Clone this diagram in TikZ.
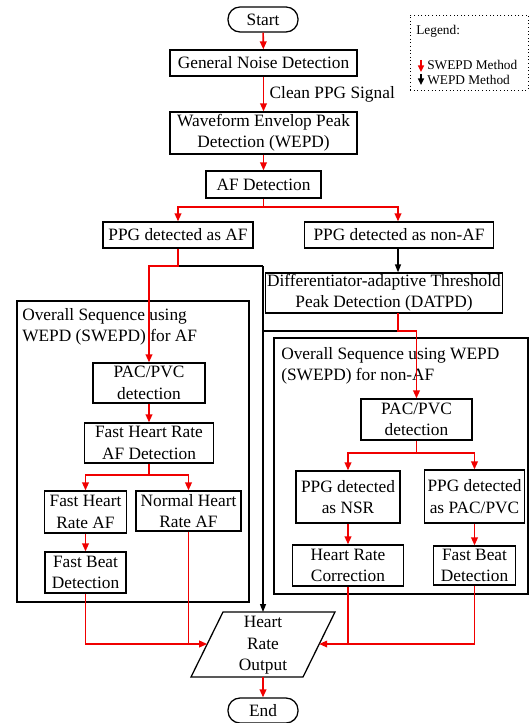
\documentclass[tikz,border=0pt]{standalone}
\usepackage{fontspec}
\setmainfont{Liberation Serif}
\usetikzlibrary{arrows.meta}
\newcommand\fsmain{\fontsize{13}{16}\selectfont}
\newcommand\fsleg{\fontsize{10}{12}\selectfont}
\definecolor{myred}{RGB}{240,0,0}
\tikzset{
  box/.style={draw, line width=0.95pt, align=center, inner sep=1pt, font=\fsmain},
  grp/.style={draw, line width=0.95pt, inner sep=0pt},
  term/.style={box, rounded corners=9pt},
  redln/.style={draw=myred, line width=1.2pt},
  redar/.style={redln, -{Triangle[length=6pt,width=5pt]}},
  blkln/.style={draw=black, line width=1pt},
  blkar/.style={blkln, -{Triangle[length=6pt,width=4.5pt]}},
  lbl/.style={font=\fsmain, inner sep=0pt, align=left},
}
\begin{document}
\begin{tikzpicture}[x=0.75pt, y=-0.75pt]
\useasboundingbox (0,0) rectangle (529,723);
% group boxes
\node[grp, minimum width=174pt, minimum height=225.75pt] (grpL) at (133,451.5) {};
\node[grp, minimum width=190.5pt, minimum height=192pt] (grpR) at (401,466) {};
\node[lbl, anchor=west] (titL) at (22,326.5) {Overall Sequence using\\WEPD (SWEPD) for AF};
\node[lbl, anchor=west] (titR) at (281,365.5) {Overall Sequence using WEPD\\(SWEPD) for non-AF};
% main nodes
\node[term, minimum width=52.5pt, minimum height=18.75pt] (start) at (263,19.5) {Start};
\node[box, minimum width=140.25pt, minimum height=19.5pt] (gnd) at (263.5,63) {General Noise Detection};
\node[box, minimum width=140.25pt, minimum height=31.5pt] (wepd) at (263.5,133) {Waveform Envelop Peak\\Detection (WEPD)};
\node[box, minimum width=86.25pt, minimum height=20.25pt] (afd) at (263.5,184.5) {AF Detection};
\node[box, minimum width=112.5pt, minimum height=19.5pt] (ppgaf) at (178,235) {PPG detected as AF};
\node[box, minimum width=141.75pt, minimum height=19.5pt] (ppgnaf) at (399,235) {PPG detected as non-AF};
\node[box, minimum width=162pt, minimum height=30pt] (datpd) at (384,293) {Differentiator-adaptive Threshold\\Peak Detection (DATPD)};
% left group
\node[box, minimum width=84pt, minimum height=30pt] (lpac) at (149,383) {PAC/PVC\\detection};
\node[box, minimum width=96.75pt, minimum height=30pt] (fhrd) at (149,443) {Fast Heart Rate\\AF Detection};
\node[box, minimum width=61.5pt, minimum height=31.5pt] (fhraf) at (85.5,512) {Fast Heart\\Rate AF};
\node[box, minimum width=78.75pt, minimum height=30pt] (nhraf) at (188.5,511) {Normal Heart\\Rate AF};
\node[box, minimum width=60.75pt, minimum height=30.75pt] (lfbd) at (85.5,572.5) {Fast Beat\\Detection};
% right group
\node[box, minimum width=83.25pt, minimum height=30.75pt] (rpac) at (416.5,419.5) {PAC/PVC\\detection};
\node[box, minimum width=78pt, minimum height=39pt] (nsr) at (348,497) {PPG detected\\as NSR};
\node[box, minimum width=75pt, minimum height=39.75pt] (ppc) at (474.5,496.5) {PPG detected\\as PAC/PVC};
\node[box, minimum width=83.25pt, minimum height=30.75pt] (hrc) at (348,565.5) {Heart Rate\\Correction};
\node[box, minimum width=61.5pt, minimum height=29.25pt] (rfbd) at (474.5,565.5) {Fast Beat\\Detection};
% heart rate output (parallelogram)
\draw[line width=0.95pt] (223,612) -- (335,612) -- (303,677) -- (191,677) -- cycle;
\node[lbl, align=center, font=\fontsize{13}{16.2}\selectfont] (hro) at (263,645.5) {Heart\\Rate\\Output};
\coordinate (hroT) at (263,612);
\coordinate (hroB) at (263,677);
\coordinate (hroL) at (207.2,644);
\coordinate (hroR) at (319.2,644);
\node[term, minimum width=52.5pt, minimum height=18.75pt] (end) at (263,710.5) {End};
% legend
\node[draw, dotted, line width=0.7pt, minimum width=88.5pt, minimum height=56.25pt, inner sep=0pt] (leg) at (469,52.5) {};
\node[font=\fsleg, anchor=west, inner sep=0pt] (legt) at (416,31) {Legend:};
\coordinate (la1) at (421,60);
\coordinate (la2) at (421,72);
\coordinate (lb1) at (421,74);
\coordinate (lb2) at (421,85);
\draw[myred, line width=1.1pt, -{Triangle[length=5pt,width=4.5pt]}] (la1) -- (la2);
\draw[black, line width=1.1pt, -{Triangle[length=5pt,width=4.5pt]}] (lb1) -- (lb2);
\node[font=\fsleg, anchor=west, inner sep=0pt] (legs) at (427,65) {SWEPD Method};
\node[font=\fsleg, anchor=west, inner sep=0pt] (legw) at (427,79.5) {WEPD Method};
% coordinates
\coordinate (s1) at (263.5,207);
\coordinate (j1) at (178,266);
\coordinate (j2) at (263,266);
\coordinate (j3) at (149,266);
\coordinate (d1) at (398,313.2);
\coordinate (d0) at (398,247.9);
\coordinate (d2) at (398,331);
\coordinate (d3) at (263,331);
\coordinate (d4) at (416.5,331);
\coordinate (s2) at (149,475);
\coordinate (s3) at (416.5,453);
% black connectors
\draw[blkln] (ppgaf.south) -- (j1) -- (j2);
\draw[blkar] (j2) -- (hroT);
\draw[blkar] (d0) -- (d0 |- datpd.north);
\draw[blkln] (d1) -- (d2) -- (d3);
% red connectors
\draw[redar] (start) -- (gnd);
\draw[redar] (gnd) -- node[lbl, anchor=west, xshift=4pt, font=\fsmain] (cps) {Clean PPG Signal} (wepd);
\draw[redar] (wepd) -- (afd);
\draw[redln] (afd.south) -- (s1);
\draw[redar] (s1) -| (ppgaf.north);
\draw[redar] (s1) -| (ppgnaf.north -| d0);
\draw[redar] (ppgaf.south) -- (j1) -- (j3) -- (lpac.north);
\draw[redar] (d1) -- (d2) -- (d4) -- (rpac.north);
\draw[redar] (lpac) -- (fhrd);
\draw[redln] (fhrd.south) -- (s2);
\draw[redar] (s2) -| (fhraf.north);
\draw[redar] (s2) -| (nhraf.north);
\draw[redar] (fhraf) -- (lfbd);
\draw[redar] (lfbd.south) |- (hroL);
\draw[redln] (nhraf.south) -- (nhraf.south |- hroL);
\draw[redln] (rpac.south) -- (s3);
\draw[redar] (s3) -| (nsr.north);
\draw[redar] (s3) -| (ppc.north);
\draw[redar] (nsr) -- (hrc);
\draw[redar] (ppc) -- (rfbd);
\draw[redar] (rfbd.south) |- (hroR);
\draw[redln] (hrc.south) -- (hrc.south |- hroR);
\draw[redar] (hroB) -- (end);
\end{tikzpicture}
\end{document}
